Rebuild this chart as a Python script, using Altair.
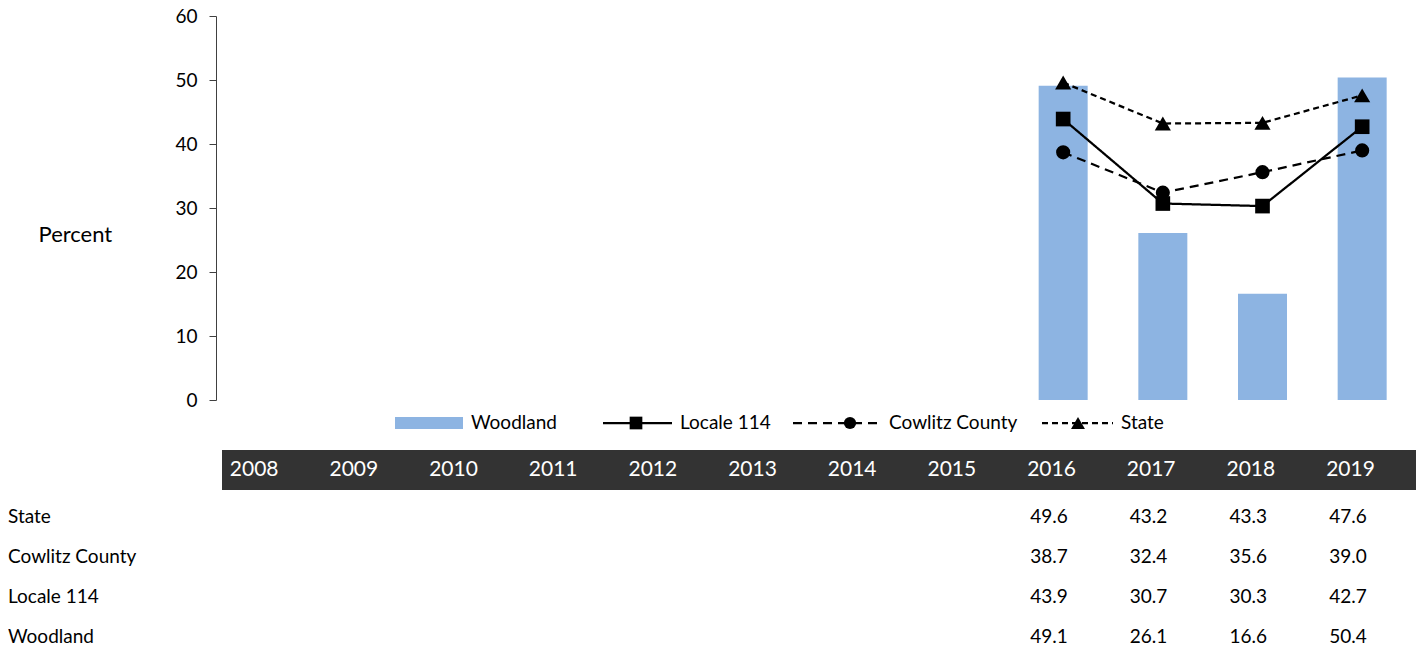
import altair as alt
import pandas as pd

# ---- data ----
years = ["2008", "2009", "2010", "2011", "2012", "2013", "2014", "2015",
         "2016", "2017", "2018", "2019"]
data_years = ["2016", "2017", "2018", "2019"]
state = [49.6, 43.2, 43.3, 47.6]
cowlitz = [38.7, 32.4, 35.6, 39.0]
locale = [43.9, 30.7, 30.3, 42.7]
woodland = [49.1, 26.1, 16.6, 50.4]

series_names = ["Woodland", "Locale 114", "Cowlitz County", "State"]
series_vals = [woodland, locale, cowlitz, state]
table_order = ["State", "Cowlitz County", "Locale 114", "Woodland"]

rows = []
for name, vals in zip(series_names, series_vals):
    for y, v in zip(data_years, vals):
        rows.append({"series": name, "year": y, "value": v})
df = pd.DataFrame(rows)

TOP = 8
W, H = 1196, 400 - 8 - TOP
FONT = "Lato"
BAR_COLOR = "#8DB4E2"

x_enc = alt.X("year:O", scale=alt.Scale(domain=years, paddingInner=0, paddingOuter=0), axis=None)
y_enc = alt.Y("value:Q", scale=alt.Scale(domain=[0, 60]),
              axis=alt.Axis(values=[0, 10, 20, 30, 40, 50, 60], grid=False,
                            domainColor="#404040", tickColor="#404040", tickSize=7,
                            labelPadding=12, labelFont=FONT, labelFontSize=19,
                            labelColor="#000000", title="Percent", titleAngle=0,
                            titleX=-178, titleY=234 - 8 - TOP, titleAlign="left",
                            titleBaseline="middle", titleFont=FONT, titleFontSize=22,
                            titleFontWeight="normal", titleColor="#000000"))

base = alt.Chart(df)

bars = base.transform_filter(alt.datum.series == "Woodland").mark_bar(
    size=49, color=BAR_COLOR).encode(x=x_enc, y=y_enc)

line_styles = {
    "Cowlitz County": {"dash": [9, 6], "shape": "circle", "size": 200},
    "Locale 114": {"dash": [1, 0], "shape": "square", "size": 215},
    "State": {"dash": [6, 4], "shape": "triangle-up", "size": 260},
}

layers = [bars]
for name in ["Cowlitz County", "Locale 114", "State"]:
    st = line_styles[name]
    sub = base.transform_filter(alt.datum.series == name)
    layers.append(sub.mark_line(color="black", strokeWidth=2.25,
                                strokeDash=st["dash"]).encode(x=x_enc, y=y_enc))
    layers.append(sub.mark_point(color="black", filled=True, opacity=1,
                                 shape=st["shape"], size=st["size"]).encode(x=x_enc, y=y_enc))


def py(page_y):
    """page pixel row -> plot-relative pixel row"""
    return page_y - 8 - TOP


# ---- data table below ----
header_bg = alt.Chart(pd.DataFrame({"a": [0]})).mark_rect(color="#333333").encode(
    x=alt.value(6), x2=alt.value(W + 4), y=alt.value(py(450)), y2=alt.value(py(490)))
layers.append(header_bg)

header_txt = alt.Chart(pd.DataFrame({"year": years})).mark_text(
    align="left", baseline="middle", dx=-36, font=FONT, fontSize=21, color="white"
).encode(x=x_enc, y=alt.value(py(470)), text="year:N")
layers.append(header_txt)

for i, name in enumerate(table_order):
    ypos = py(517 + 40 * i)
    lab = alt.Chart(pd.DataFrame({"label": [name]})).mark_text(
        align="left", baseline="middle", font=FONT, fontSize=19, color="black"
    ).encode(x=alt.value(-208), y=alt.value(ypos), text="label:N")
    vals = base.transform_filter(alt.datum.series == name).mark_text(
        align="left", baseline="middle", dx=-33, font=FONT, fontSize=19, color="black"
    ).encode(x=x_enc, y=alt.value(ypos), text=alt.Text("value:Q", format=".1f"))
    layers += [lab, vals]

# ---- legend ----
LY = py(423)
one = pd.DataFrame({"a": [0]})
legend_layers = [
    alt.Chart(one).mark_rect(color=BAR_COLOR).encode(
        x=alt.value(179), x2=alt.value(247), y=alt.value(LY - 6), y2=alt.value(LY + 6)),
]
legend_items = [
    ("Woodland", None, None, 255),
    ("Locale 114", (387, 456, 420), "Locale 114", 464),
    ("Cowlitz County", (577, 664, 634), "Cowlitz County", 673),
    ("State", (826, 897, 862), "State", 905),
]
for label, geom, key, tx in legend_items:
    if geom is not None:
        x1, x2, xm = geom
        st = line_styles[key]
        legend_layers.append(alt.Chart(one).mark_rule(
            color="black", strokeWidth=2.25, strokeDash=st["dash"]).encode(
            x=alt.value(x1), x2=alt.value(x2), y=alt.value(LY)))
        legend_layers.append(alt.Chart(one).mark_point(
            color="black", filled=True, opacity=1, shape=st["shape"], size=st["size"] * 0.75
        ).encode(x=alt.value(xm), y=alt.value(LY)))
    legend_layers.append(alt.Chart(pd.DataFrame({"label": [label]})).mark_text(
        align="left", baseline="middle", font=FONT, fontSize=19, color="black"
    ).encode(x=alt.value(tx), y=alt.value(LY), text="label:N"))
layers += legend_layers

chart = alt.layer(*layers).properties(
    width=W, height=H, autosize="none",
    padding={"left": 208, "top": TOP, "right": 4, "bottom": 250},
).configure(background="white").configure_view(stroke=None)

chart.save("out.html", embed_options={"renderer": "svg", "actions": False})
